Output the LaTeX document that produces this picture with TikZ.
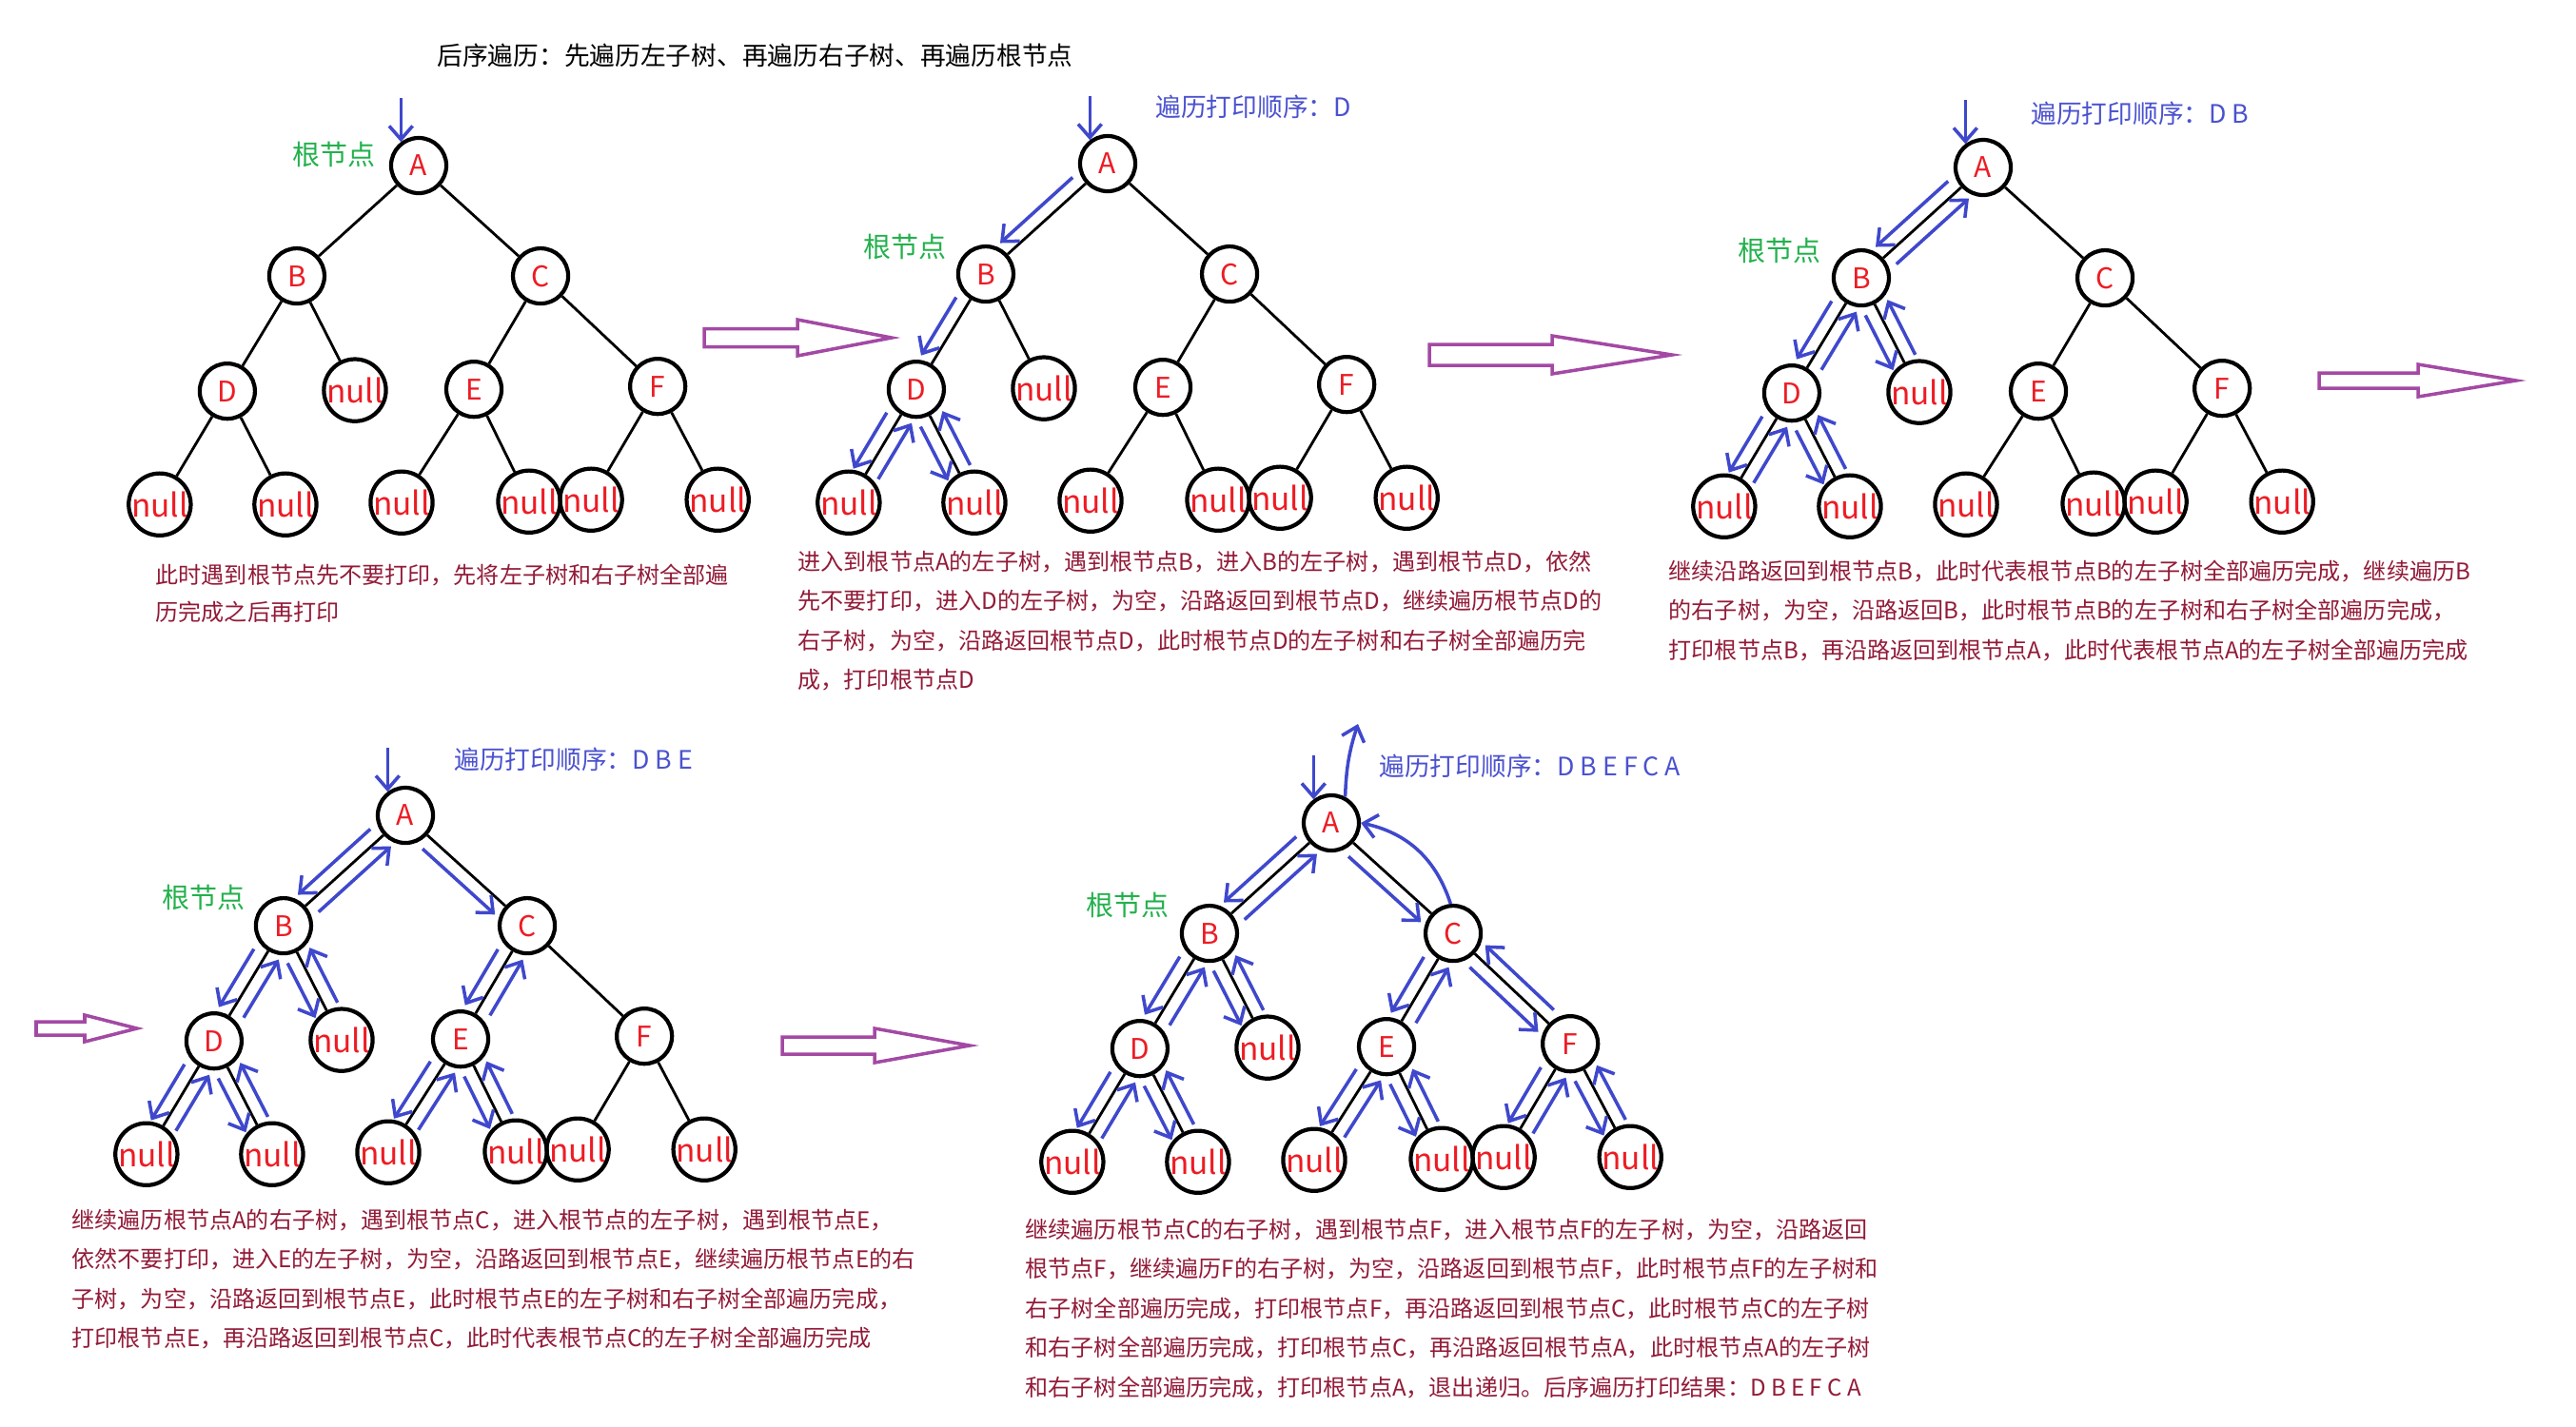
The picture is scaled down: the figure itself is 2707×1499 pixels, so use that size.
\documentclass[tikz,border=0pt]{standalone}
\usepackage{fontspec}
\setmainfont{Noto Sans CJK SC}
\usetikzlibrary{arrows.meta, positioning, calc}

\definecolor{nodered}{HTML}{ED1C24}
\definecolor{walkblue}{HTML}{3F48CC}
\definecolor{labelblue}{HTML}{4B52CF}
\definecolor{rootgreen}{HTML}{22B14C}
\definecolor{notered}{HTML}{921B38}
\definecolor{arrowpurple}{HTML}{A349A4}

% one binary tree A..F with its null leaves, #1 = name prefix, #2 = centre of A
\newcommand\bintree[2]{%
  \node[vert] (#1A) at (#2) {A};
  \node[vert, below left=1.16cm and 1.28cm of #1A] (#1B) {B};
  \node[vert, below right=1.16cm and 1.28cm of #1A] (#1C) {C};
  \node[vert, below left=1.21cm and 0.73cm of #1B] (#1D) {D};
  \node[nullv, below right=1.20cm and 0.61cm of #1B] (#1nB) {null};
  \node[vert, below left=1.19cm and 0.70cm of #1C] (#1E) {E};
  \node[vert, below right=1.16cm and 1.23cm of #1C] (#1F) {F};
  \node[nullv, below left=1.19cm and 0.71cm of #1D] (#1n1) {null};
  \node[nullv, below right=1.19cm and 0.61cm of #1D] (#1n2) {null};
  \node[nullv, below left=1.19cm and 0.76cm of #1E] (#1n3) {null};
  \node[nullv, below right=1.18cm and 0.58cm of #1E] (#1n4) {null};
  \node[nullv, below left=1.19cm and 0.70cm of #1F] (#1n5) {null};
  \node[nullv, below right=1.19cm and 0.63cm of #1F] (#1n6) {null};
  \foreach \p/\c in {A/B, A/C, B/D, B/nB, C/E, C/F, D/n1, D/n2, E/n3, E/n4, F/n5, F/n6}
    \draw[edge] (#1\p) -- (#1\c);
}

% blue hand arrow beside an edge, on the right of the way it goes
\newcommand\walk[3][]{%
  \draw[walkline,#1] ($(#2)!0.37cm!(#3)!0.14cm!-90:(#3)$) -- ($(#3)!0.33cm!(#2)!0.14cm!90:(#2)$);}

% purple hollow arrow: shaft start, head base, tip, y, half shaft, half head
\newcommand\hollow[6]{%
  \draw[bigarrow] (#1,#4-#5) -- (#2,#4-#5) -- (#2,#4-#6) -- (#3,#4) -- (#2,#4+#6) -- (#2,#4+#5) -- (#1,#4+#5) -- cycle;}

\begin{document}
\begin{tikzpicture}[
    x=0.01cm, y=-0.01cm, on grid,
    vert/.style={circle, draw, line width=1.2pt, minimum size=0.58cm, inner sep=0pt, text=nodered, font=\fontsize{8.5pt}{8.5pt}\selectfont},
    nullv/.style={vert, font=\fontsize{9.5pt}{9.5pt}\selectfont},
    edge/.style={line width=0.8pt},
    walkline/.style={draw=walkblue, line width=1pt, -{Straight Barb[length=4pt,width=7pt]}},
    bigarrow/.style={draw=arrowpurple, line width=1pt},
    title/.style={anchor=west, font=\fontsize{7.6pt}{9pt}\selectfont},
    order/.style={anchor=west, text=labelblue, font=\fontsize{7.6pt}{9pt}\selectfont},
    rootlabel/.style={text=rootgreen, font=\fontsize{8.25pt}{10pt}\selectfont},
    note/.style={anchor=north west, inner sep=0pt, align=left, text=notered, font=\fontsize{6.85pt}{11.8pt}\selectfont}
  ]
  \fill[white] (0,0) rectangle (2707,1499);
  \useasboundingbox (0,0) rectangle (2707,1499);

  \node[title] (title) at (447,58) {后序遍历：先遍历左子树、再遍历右子树、再遍历根节点};

  \bintree{t1}{440,174}
  \bintree{t2}{1164,172}
  \bintree{t3}{2084,176}
  \bintree{t4}{426,857}
  \bintree{t5}{1399,865}

  \node[rootlabel, above left=0.12cm and 0.89cm of t1A] (root1) {根节点};
  \node[rootlabel, above left=0.29cm and 0.85cm of t2B] (root2) {根节点};
  \node[rootlabel, above left=0.29cm and 0.86cm of t3B] (root3) {根节点};
  \node[rootlabel, above left=0.30cm and 0.84cm of t4B] (root4) {根节点};
  \node[rootlabel, above left=0.30cm and 0.86cm of t5B] (root5) {根节点};

  \node[order] (order2) at (1202,112) {遍历打印顺序：D};
  \node[order] (order3) at (2122,119) {遍历打印顺序：D B};
  \node[order] (order4) at (465,798) {遍历打印顺序：D B E};
  \node[order] (order5) at (1437,805) {遍历打印顺序：D B E F C A};

  % entry arrows into the roots
  \foreach \k in {1,...,5} {
    \coordinate (t\k-in) at ($(t\k A.127)+(0,-46)$);
    \draw[walkline] (t\k-in) -- (t\k A.127);
  }

  % walks
  \foreach \p/\c in {A/B, B/D, D/n1, n1/D, D/n2, n2/D}
    \walk{t2\p}{t2\c};
  \foreach \p/\c in {A/B, B/D, D/n1, n1/D, D/n2, n2/D, D/B, B/nB, nB/B, B/A}
    \walk{t3\p}{t3\c};
  \foreach \p/\c in {A/B, B/D, D/n1, n1/D, D/n2, n2/D, D/B, B/nB, nB/B, B/A,
                     A/C, C/E, E/n3, n3/E, E/n4, n4/E, E/C}
    \walk{t4\p}{t4\c};
  \foreach \p/\c in {A/B, B/D, D/n1, n1/D, D/n2, n2/D, D/B, B/nB, nB/B, B/A,
                     A/C, C/E, E/n3, n3/E, E/n4, n4/E, E/C,
                     C/F, F/n5, n5/F, F/n6, n6/F, F/C}
    \walk{t5\p}{t5\c};
  \draw[walkline] (t5C.95) to[bend right=30] (t5A.east);
  \coordinate (t5-out) at ($(t5A)+(28,-104)$);
  \draw[walkline] (t5A.62) to[bend left=8] (t5-out);

  % hollow arrows between the steps
  \foreach \a/\b/\c/\y/\h/\H in {740/838/937/355/9.5/19, 1502/1631/1757/373/11/20,
      2437/2541/2644/400/8/17, 38/89/144/1081/7/14, 822/919/1019/1099/9/18}
    \hollow{\a}{\b}{\c}{\y}{\h}{\H};

  \node[note, font=\fontsize{6.85pt}{11.1pt}\selectfont] (note1) at (163,592)
    {此时遇到根节点先不要打印，先将左子树和右子树全部遍\\历完成之后再打印};
  \node[note] (note2) at (838,578)
    {进入到根节点A的左子树，遇到根节点B，进入B的左子树，遇到根节点D，依然\\先不要打印，进入D的左子树，为空，沿路返回到根节点D，继续遍历根节点D的\\右子树，为空，沿路返回根节点D，此时根节点D的左子树和右子树全部遍历完\\成，打印根节点D};
  \node[note] (note3) at (1753,588)
    {继续沿路返回到根节点B，此时代表根节点B的左子树全部遍历完成，继续遍历B\\的右子树，为空，沿路返回B，此时根节点B的左子树和右子树全部遍历完成，\\打印根节点B，再沿路返回到根节点A，此时代表根节点A的左子树全部遍历完成};
  \node[note] (note4) at (75,1270)
    {继续遍历根节点A的右子树，遇到根节点C，进入根节点的左子树，遇到根节点E，\\依然不要打印，进入E的左子树，为空，沿路返回到根节点E，继续遍历根节点E的右\\子树，为空，沿路返回到根节点E，此时根节点E的左子树和右子树全部遍历完成，\\打印根节点E，再沿路返回到根节点C，此时代表根节点C的左子树全部遍历完成};
  \node[note] (note5) at (1077,1280)
    {继续遍历根节点C的右子树，遇到根节点F，进入根节点F的左子树，为空，沿路返回\\根节点F，继续遍历F的右子树，为空，沿路返回到根节点F，此时根节点F的左子树和\\右子树全部遍历完成，打印根节点F，再沿路返回到根节点C，此时根节点C的左子树\\和右子树全部遍历完成，打印根节点C，再沿路返回根节点A，此时根节点A的左子树\\和右子树全部遍历完成，打印根节点A，退出递归。后序遍历打印结果：D B E F C A};
\end{tikzpicture}
\end{document}
